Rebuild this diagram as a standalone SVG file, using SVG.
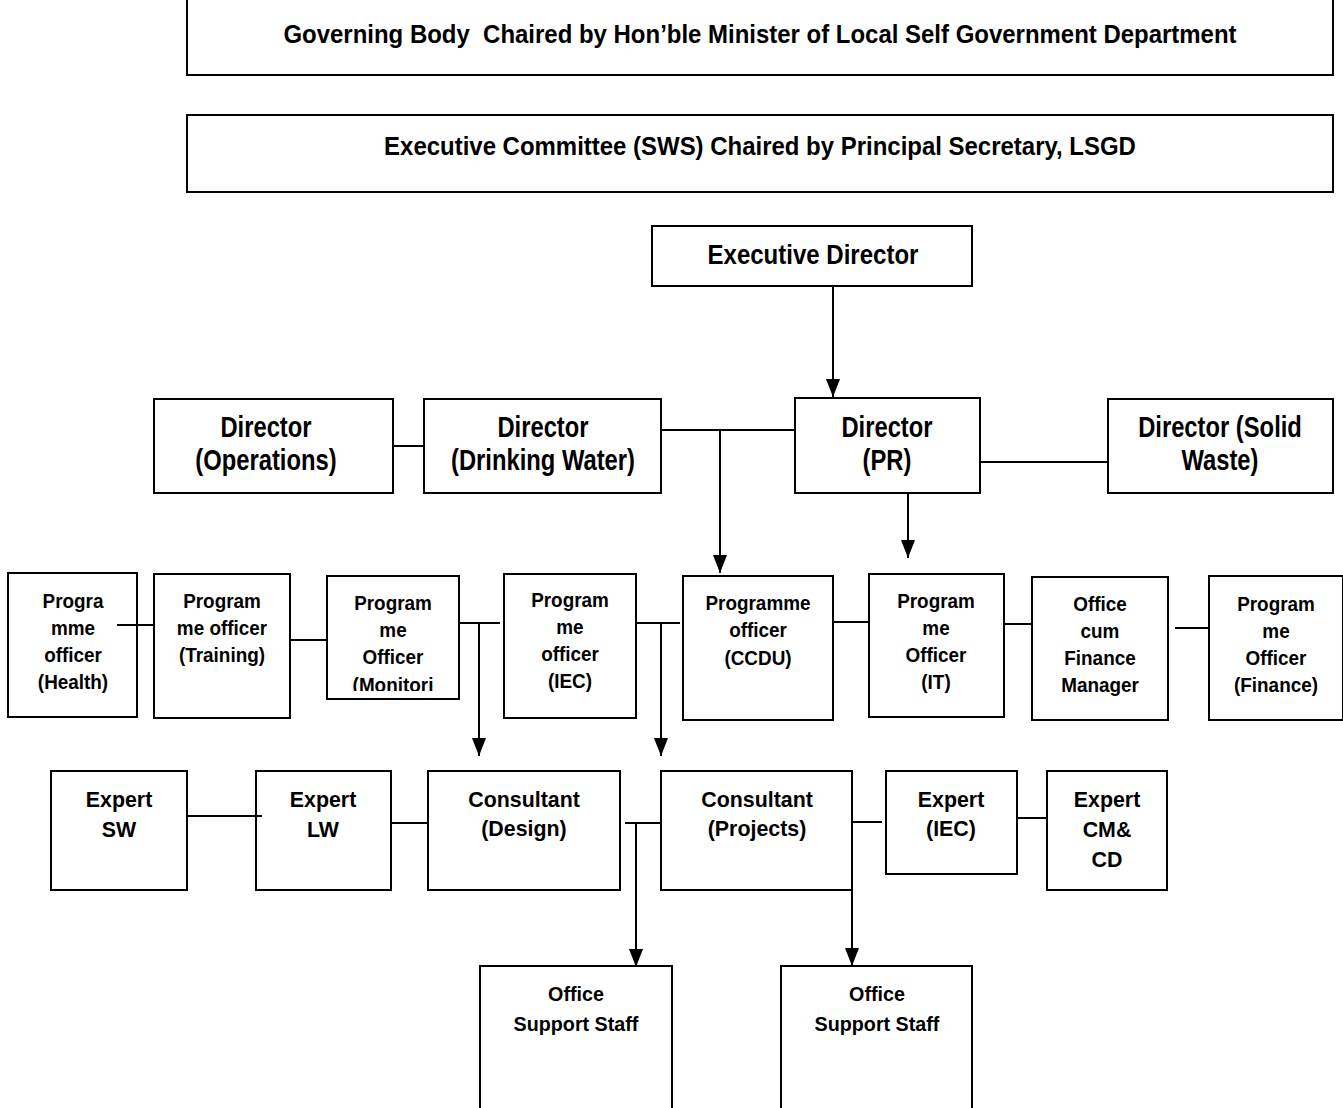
<svg xmlns="http://www.w3.org/2000/svg" width="1343" height="1108" viewBox="0 0 1343 1108">
<style>
.b{fill:#fff;stroke:#000;stroke-width:2}
text{font-family:"Liberation Sans",Arial,sans-serif;font-weight:bold;fill:#000;text-anchor:middle;transform-box:fill-box;transform-origin:50% 50%}
.h{font-size:25.5px;transform:scaleX(.94)}
.x{font-size:27px;transform:scaleX(.89)}
.d{font-size:29px;transform:scaleX(.82)}
.p{font-size:21px;transform:scaleX(.9)}
.e{font-size:23px;transform:scaleX(.93)}
.s{font-size:21px;transform:scaleX(.94)}
.c line{stroke:#000;stroke-width:2;fill:none}
</style>
<defs>
<marker id="ar" viewBox="0 0 18 14" refX="18" refY="7" markerWidth="18" markerHeight="14" markerUnits="userSpaceOnUse" orient="auto">
<path d="M0,0 L18,7 L0,14 Z" fill="#000"/>
</marker>
<clipPath id="clipMon"><rect x="327" y="576" width="132" height="115"/></clipPath>
</defs>
<rect width="1343" height="1108" fill="#fff"/>

<g id="governing-body"><rect class="b" x="187" y="-1" width="1146" height="76"/><text class="h" x="760" y="43">Governing Body&#160; Chaired by Hon’ble Minister of Local Self Government Department</text></g>
<g id="executive-committee"><rect class="b" x="187" y="115" width="1146" height="77"/><text class="h" x="760" y="155">Executive Committee (SWS) Chaired by Principal Secretary, LSGD</text></g>
<g id="executive-director"><rect class="b" x="652" y="226" width="320" height="60"/><text class="x" x="813" y="264">Executive Director</text></g>

<g id="dir-operations"><rect class="b" x="154" y="399" width="239" height="94"/><text class="d" x="266" y="437">Director</text><text class="d" x="266" y="470">(Operations)</text></g>
<g id="dir-drinking-water"><rect class="b" x="424" y="399" width="237" height="94"/><text class="d" x="543" y="437">Director</text><text class="d" x="543" y="470">(Drinking Water)</text></g>
<g id="dir-pr"><rect class="b" x="795" y="398" width="185" height="95"/><text class="d" x="887" y="437">Director</text><text class="d" x="887" y="470">(PR)</text></g>
<g id="dir-solid-waste"><rect class="b" x="1108" y="399" width="225" height="94"/><text class="d" x="1220" y="437">Director (Solid</text><text class="d" x="1220" y="470">Waste)</text></g>

<g id="po-health"><rect class="b" x="8" y="573" width="129" height="144"/><text class="p" x="73" y="608">Progra</text><text class="p" x="73" y="635">mme</text><text class="p" x="73" y="662">officer</text><text class="p" x="73" y="689">(Health)</text></g>
<g id="po-training"><rect class="b" x="154" y="574" width="136" height="144"/><text class="p" x="222" y="608">Program</text><text class="p" x="222" y="635">me officer</text><text class="p" x="222" y="662">(Training)</text></g>
<g id="po-monitoring"><rect class="b" x="327" y="576" width="132" height="123"/><g clip-path="url(#clipMon)"><text class="p" x="393" y="610">Program</text><text class="p" x="393" y="637">me</text><text class="p" x="393" y="664">Officer</text><text class="p" x="393" y="692">(Monitori</text></g></g>
<g id="po-iec"><rect class="b" x="504" y="574" width="132" height="144"/><text class="p" x="570" y="607">Program</text><text class="p" x="570" y="634">me</text><text class="p" x="570" y="661">officer</text><text class="p" x="570" y="688">(IEC)</text></g>
<g id="po-ccdu"><rect class="b" x="683" y="576" width="150" height="144"/><text class="p" x="758" y="610">Programme</text><text class="p" x="758" y="637">officer</text><text class="p" x="758" y="665">(CCDU)</text></g>
<g id="po-it"><rect class="b" x="869" y="574" width="135" height="143"/><text class="p" x="936" y="608">Program</text><text class="p" x="936" y="635">me</text><text class="p" x="936" y="662">Officer</text><text class="p" x="936" y="689">(IT)</text></g>
<g id="office-finance-manager"><rect class="b" x="1032" y="577" width="136" height="143"/><text class="p" x="1100" y="611">Office</text><text class="p" x="1100" y="638">cum</text><text class="p" x="1100" y="665">Finance</text><text class="p" x="1100" y="692">Manager</text></g>
<g id="po-finance"><rect class="b" x="1209" y="576" width="134" height="144"/><text class="p" x="1276" y="611">Program</text><text class="p" x="1276" y="638">me</text><text class="p" x="1276" y="665">Officer</text><text class="p" x="1276" y="692">(Finance)</text></g>

<g id="expert-sw"><rect class="b" x="51" y="771" width="136" height="119"/><text class="e" x="119" y="807">Expert</text><text class="e" x="119" y="837">SW</text></g>
<g id="expert-lw"><rect class="b" x="256" y="771" width="135" height="119"/><text class="e" x="323" y="807">Expert</text><text class="e" x="323" y="837">LW</text></g>
<g id="consultant-design"><rect class="b" x="428" y="771" width="192" height="119"/><text class="e" x="524" y="807">Consultant</text><text class="e" x="524" y="836">(Design)</text></g>
<g id="consultant-projects"><rect class="b" x="661" y="771" width="191" height="119"/><text class="e" x="757" y="807">Consultant</text><text class="e" x="757" y="836">(Projects)</text></g>
<g id="expert-iec"><rect class="b" x="886" y="771" width="131" height="103"/><text class="e" x="951" y="807">Expert</text><text class="e" x="951" y="836">(IEC)</text></g>
<g id="expert-cmcd"><rect class="b" x="1047" y="771" width="120" height="119"/><text class="e" x="1107" y="807">Expert</text><text class="e" x="1107" y="837">CM&amp;</text><text class="e" x="1107" y="867">CD</text></g>

<g id="support-staff-1"><rect class="b" x="480" y="966" width="192" height="150"/><text class="s" x="576" y="1001">Office</text><text class="s" x="576" y="1031">Support Staff</text></g>
<g id="support-staff-2"><rect class="b" x="781" y="966" width="191" height="150"/><text class="s" x="877" y="1001">Office</text><text class="s" x="877" y="1031">Support Staff</text></g>

<g id="connectors" class="c">
<line x1="833" y1="286" x2="833" y2="397" marker-end="url(#ar)"/>
<line x1="393" y1="446" x2="424" y2="446"/>
<line x1="661" y1="430" x2="795" y2="430"/>
<line x1="720" y1="430" x2="720" y2="573" marker-end="url(#ar)"/>
<line x1="980" y1="462" x2="1108" y2="462"/>
<line x1="908" y1="493" x2="908" y2="558" marker-end="url(#ar)"/>
<line x1="117" y1="625" x2="154" y2="625"/>
<line x1="290" y1="640" x2="327" y2="640"/>
<line x1="459" y1="623" x2="500" y2="623"/>
<line x1="479" y1="623" x2="479" y2="756" marker-end="url(#ar)"/>
<line x1="636" y1="623" x2="680" y2="623"/>
<line x1="661" y1="623" x2="661" y2="756" marker-end="url(#ar)"/>
<line x1="833" y1="622" x2="869" y2="622"/>
<line x1="1004" y1="624" x2="1032" y2="624"/>
<line x1="1175" y1="628" x2="1209" y2="628"/>
<line x1="187" y1="816" x2="262" y2="816"/>
<line x1="391" y1="823" x2="428" y2="823"/>
<line x1="625" y1="823" x2="661" y2="823"/>
<line x1="636" y1="823" x2="636" y2="967" marker-end="url(#ar)"/>
<line x1="852" y1="822" x2="882" y2="822"/>
<line x1="852" y1="822" x2="852" y2="966" marker-end="url(#ar)"/>
<line x1="1017" y1="818" x2="1047" y2="818"/>
</g>
</svg>
